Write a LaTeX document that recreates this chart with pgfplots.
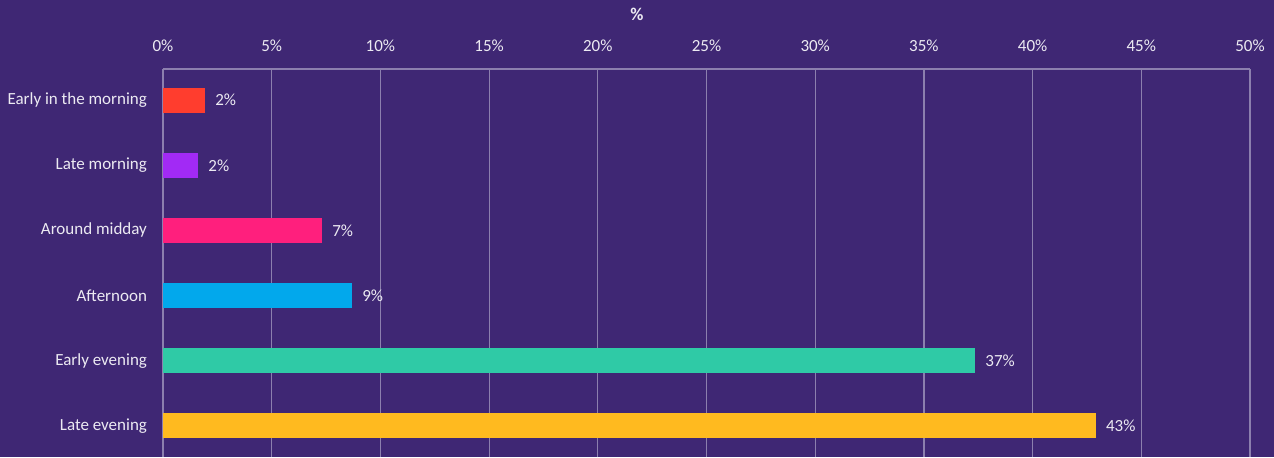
\documentclass[border=0pt]{standalone}
\usepackage{fontspec}
\setmainfont{Carlito}
\usepackage{pgfplots}
\pgfplotsset{compat=1.18}
\definecolor{bg}{HTML}{3F2774}
\definecolor{gridc}{HTML}{8C7FAE}
\definecolor{txt}{HTML}{ECEAF2}
\definecolor{cA}{HTML}{FF3D2E}
\definecolor{cB}{HTML}{A22AF5}
\definecolor{cC}{HTML}{FF1F7D}
\definecolor{cD}{HTML}{02A8EC}
\definecolor{cE}{HTML}{2FCAA6}
\definecolor{cF}{HTML}{FFBA1F}
\begin{document}
\begin{tikzpicture}
\path[use as bounding box, fill=bg] (-81.5pt,0) rectangle (555.5pt,228.5pt);
\begin{axis}[
 at={(0,0)}, anchor=south west,
 scale only axis, width=543.5pt, height=194pt,
 xbar, bar width=12.5pt, bar shift=0pt,
 xmin=0, xmax=50, ymin=-0.48, ymax=5.48,
 axis x line*=top, axis y line*=left,
 x axis line style={-, draw=gridc, line width=0.6pt},
 y axis line style={draw=none},
 xtick={0,5,...,50},
 ytick={0,...,5},
 yticklabels={Late evening, Early evening, Afternoon, Around midday, Late morning, Early in the morning},
 major tick length=0pt,
 xmajorgrids, grid style={gridc, line width=0.6pt},
 xticklabel={\pgfmathprintnumber{\tick}\%},
 /pgf/number format/assume math mode=true,
 tick label style={font=\fontsize{8.5}{10}\selectfont, text=txt},
 xticklabel style={yshift=5pt},
 yticklabel style={xshift=-4.5pt},
 point meta=x,
 nodes near coords={\pgfmathprintnumber[fixed,precision=0]{\pgfplotspointmeta}\%},
 nodes near coords style={anchor=west, inner sep=0pt, xshift=5pt, font=\fontsize{8.5}{10}\selectfont, text=txt},
]
\addplot[fill=cA, draw=none] coordinates {(1.93,5)};
\addplot[fill=cB, draw=none] coordinates {(1.61,4)};
\addplot[fill=cC, draw=none] coordinates {(7.31,3)};
\addplot[fill=cD, draw=none] coordinates {(8.69,2)};
\addplot[fill=cE, draw=none] coordinates {(37.35,1)};
\addplot[fill=cF, draw=none] coordinates {(42.9,0)};
\end{axis}
\node[text=txt, font=\bfseries\fontsize{9}{10}\selectfont] at (237pt,221.5pt) {\%};
\end{tikzpicture}
\end{document}
